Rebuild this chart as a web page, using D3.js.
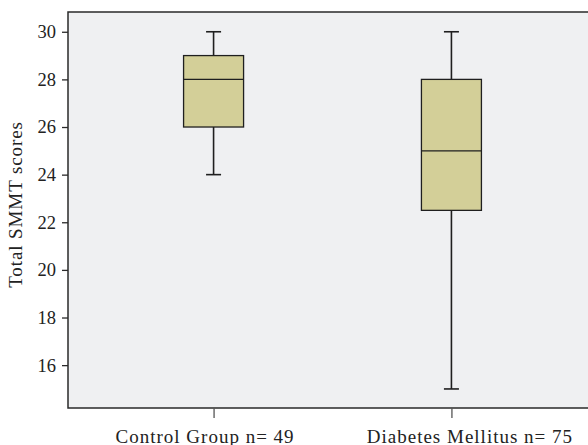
<!DOCTYPE html>
<html>
<head>
<meta charset="utf-8">
<script src="https://cdn.jsdelivr.net/npm/d3@7"></script>
<style>
  html, body { margin: 0; padding: 0; background: #ffffff; }
  svg { display: block; }
  text { font-family: "Liberation Serif", "Times New Roman", serif; fill: #222; }
</style>
</head>
<body>
<svg id="chart" width="588" height="445"></svg>
<script>
// Group labels and five-number summaries of the SMMT scores
const groups = ["Control Group n= 49", "Diabetes Mellitus n= 75"];
const whiskerLow  = [24, 15];
const q1          = [26, 22.5];
const median      = [28, 25];
const q3          = [29, 28];
const whiskerHigh = [30, 30];
const yTicks = [16, 18, 20, 22, 24, 26, 28, 30];
const yLabel = "Total SMMT scores";

const svg = d3.select("#chart");
const W = 588, H = 445;
const plotLeft = 68, plotTop = 12, plotBottom = 408, plotRight = 597;

const x = d3.scalePoint().domain(groups).range([plotLeft, plotRight]).padding(0.612);
const y = d3.scaleLinear().domain([14.2, 30.83]).range([plotBottom, plotTop]);

const stats = groups.map((g, i) => ({
  g, lo: whiskerLow[i], q1: q1[i], med: median[i], q3: q3[i], hi: whiskerHigh[i]
}));

// plot background
svg.append("rect")
  .attr("x", plotLeft).attr("y", plotTop)
  .attr("width", W - plotLeft + 2).attr("height", plotBottom - plotTop)
  .attr("fill", "#eff0f2");

const boxW = 60, capW = 15;
const line = "#1f1f1f";

const g = svg.append("g");
stats.forEach(d => {
  const cx = x(d.g);
  // whiskers
  g.append("line").attr("x1", cx).attr("x2", cx)
    .attr("y1", y(d.hi)).attr("y2", y(d.q3))
    .attr("stroke", line).attr("stroke-width", 1.6);
  g.append("line").attr("x1", cx).attr("x2", cx)
    .attr("y1", y(d.q1)).attr("y2", y(d.lo))
    .attr("stroke", line).attr("stroke-width", 1.6);
  [d.hi, d.lo].forEach(v => {
    g.append("line").attr("x1", cx - capW / 2).attr("x2", cx + capW / 2)
      .attr("y1", y(v)).attr("y2", y(v))
      .attr("stroke", line).attr("stroke-width", 1.6);
  });
  // box
  g.append("rect")
    .attr("x", cx - boxW / 2).attr("y", y(d.q3))
    .attr("width", boxW).attr("height", y(d.q1) - y(d.q3))
    .attr("fill", "#d3cf98")
    .attr("stroke", line).attr("stroke-width", 1.3);
  // median
  g.append("line").attr("x1", cx - boxW / 2).attr("x2", cx + boxW / 2)
    .attr("y1", y(d.med)).attr("y2", y(d.med))
    .attr("stroke", line).attr("stroke-width", 1.3);
});

// frame: top, left and bottom edges
svg.append("path")
  .attr("d", `M${W + 2},${plotTop}H${plotLeft}V${plotBottom}H${W + 2}`)
  .attr("fill", "none").attr("stroke", "#2a2a2a").attr("stroke-width", 1.5);

// y axis
const yAxis = svg.append("g").attr("transform", `translate(${plotLeft},0)`)
  .call(d3.axisLeft(y).tickValues(yTicks).tickSize(6).tickPadding(6));
yAxis.select(".domain").remove();
yAxis.selectAll(".tick line").attr("stroke", "#2a2a2a").attr("stroke-width", 1.3);
yAxis.selectAll(".tick text")
  .attr("font-size", 18.5).attr("fill", "#222")
  .attr("font-family", "Liberation Serif, serif");

// x axis
const labelShift = [-9, 18];
const xAxis = svg.append("g").attr("transform", `translate(0,${plotBottom})`)
  .call(d3.axisBottom(x).tickSize(10).tickPadding(12));
xAxis.select(".domain").remove();
xAxis.selectAll(".tick line").attr("stroke", "#555").attr("stroke-width", 1.3);
xAxis.selectAll(".tick text")
  .attr("font-size", 19).attr("fill", "#222")
  .attr("letter-spacing", 1.0)
  .attr("font-family", "Liberation Serif, serif")
  .attr("dx", (d, i) => labelShift[i]);

// y axis title
svg.append("text")
  .attr("transform", `translate(22,204.5) rotate(-90)`)
  .attr("text-anchor", "middle")
  .attr("font-size", 19)
  .attr("letter-spacing", 0.9)
  .text(yLabel);
</script>
</body>
</html>
